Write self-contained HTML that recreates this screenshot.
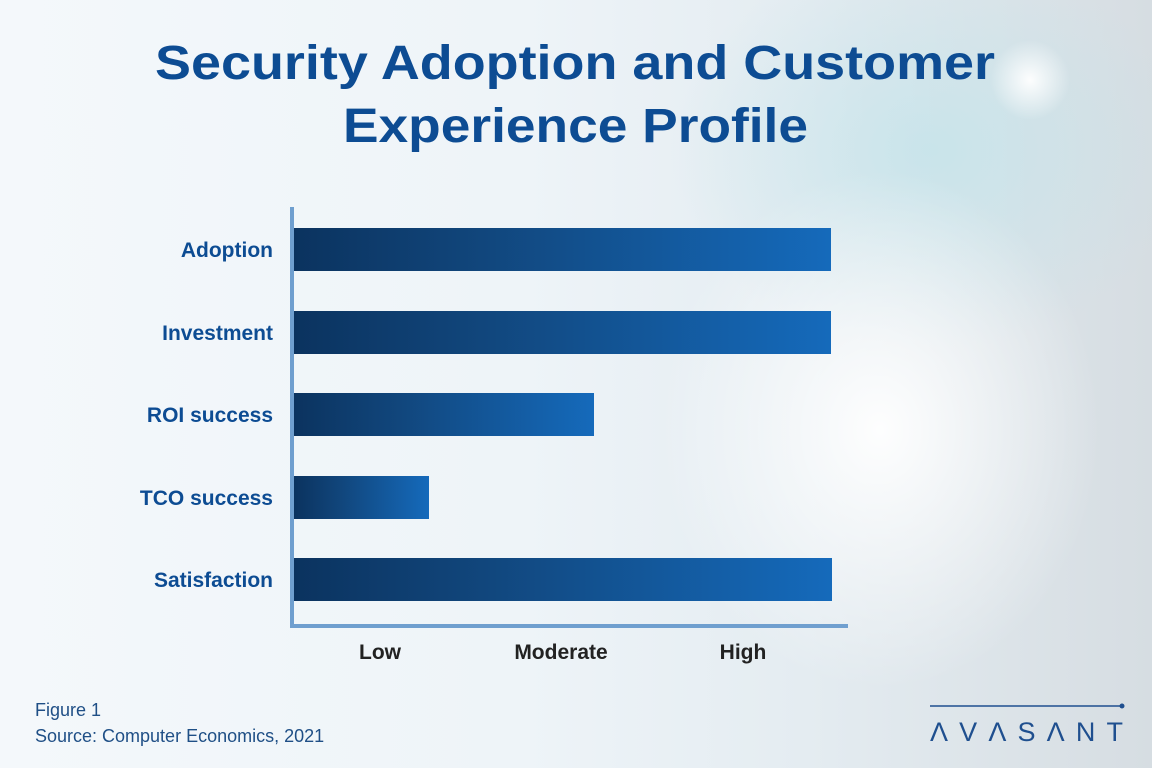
<!DOCTYPE html>
<html><head><meta charset="utf-8"><style>
html,body{margin:0;padding:0}
body{width:1152px;height:768px;overflow:hidden;position:relative;font-family:"Liberation Sans",sans-serif;
background:linear-gradient(90deg,#f4f8fb 0%,#eef4f8 45%,#e4ecf1 70%,#d6dde2 100%);}
</style></head><body>
<svg width="1152" height="768" style="position:absolute;left:0;top:0" xmlns="http://www.w3.org/2000/svg">
<defs>
<linearGradient id="bar" x1="0" x2="1" y1="0" y2="0">
<stop offset="0" stop-color="#0b335f"/><stop offset="0.35" stop-color="#11467c"/><stop offset="1" stop-color="#156abb"/>
</linearGradient>
<radialGradient id="glow" cx="0.5" cy="0.5" r="0.5">
<stop offset="0" stop-color="#ffffff" stop-opacity="0.95"/><stop offset="1" stop-color="#ffffff" stop-opacity="0"/>
</radialGradient>
<radialGradient id="teal" cx="0.5" cy="0.5" r="0.5">
<stop offset="0" stop-color="#bfe3ea" stop-opacity="0.7"/><stop offset="1" stop-color="#bfe3ea" stop-opacity="0"/>
</radialGradient>
</defs>
<ellipse cx="930" cy="150" rx="260" ry="200" fill="url(#teal)"/>
<ellipse cx="880" cy="430" rx="220" ry="260" fill="url(#glow)"/>
<ellipse cx="1030" cy="80" rx="40" ry="40" fill="url(#glow)"/>
<text x="155" y="79" textLength="840" lengthAdjust="spacingAndGlyphs" font-size="48" font-weight="bold" fill="#0d4c93">Security Adoption and Customer</text>
<text x="343" y="142" textLength="465" lengthAdjust="spacingAndGlyphs" font-size="48" font-weight="bold" fill="#0d4c93">Experience Profile</text>
<rect x="290" y="207" width="4" height="421" fill="#6f9fcf"/>
<rect x="290" y="624" width="558" height="4" fill="#6f9fcf"/>
<rect x="294" y="228" width="537" height="43" fill="url(#bar)"/>
<rect x="294" y="311" width="537" height="43" fill="url(#bar)"/>
<rect x="294" y="393" width="300" height="43" fill="url(#bar)"/>
<rect x="294" y="476" width="135" height="43" fill="url(#bar)"/>
<rect x="294" y="558" width="538" height="43" fill="url(#bar)"/>
<g font-size="21" font-weight="bold" fill="#0d4c93" text-anchor="end">
<text x="273" y="257">Adoption</text>
<text x="273" y="340">Investment</text>
<text x="273" y="422">ROI success</text>
<text x="273" y="505">TCO success</text>
<text x="273" y="587">Satisfaction</text>
</g>
<g font-size="21" font-weight="bold" fill="#222" text-anchor="middle">
<text x="380" y="659">Low</text>
<text x="561" y="659">Moderate</text>
<text x="743" y="659">High</text>
</g>
<g font-size="18" fill="#1f4f86">
<text x="35" y="716">Figure 1</text>
<text x="35" y="742">Source: Computer Economics, 2021</text>
</g>
<line x1="930" y1="706" x2="1120" y2="706" stroke="#1f4f8f" stroke-width="1.5"/>
<circle cx="1122" cy="706" r="2.5" fill="#1f4f8f"/>
<text x="930" y="741" font-size="27" fill="#1f4f8f" textLength="193" lengthAdjust="spacing">ΛVΛSΛNT</text>
</svg>
</body></html>
